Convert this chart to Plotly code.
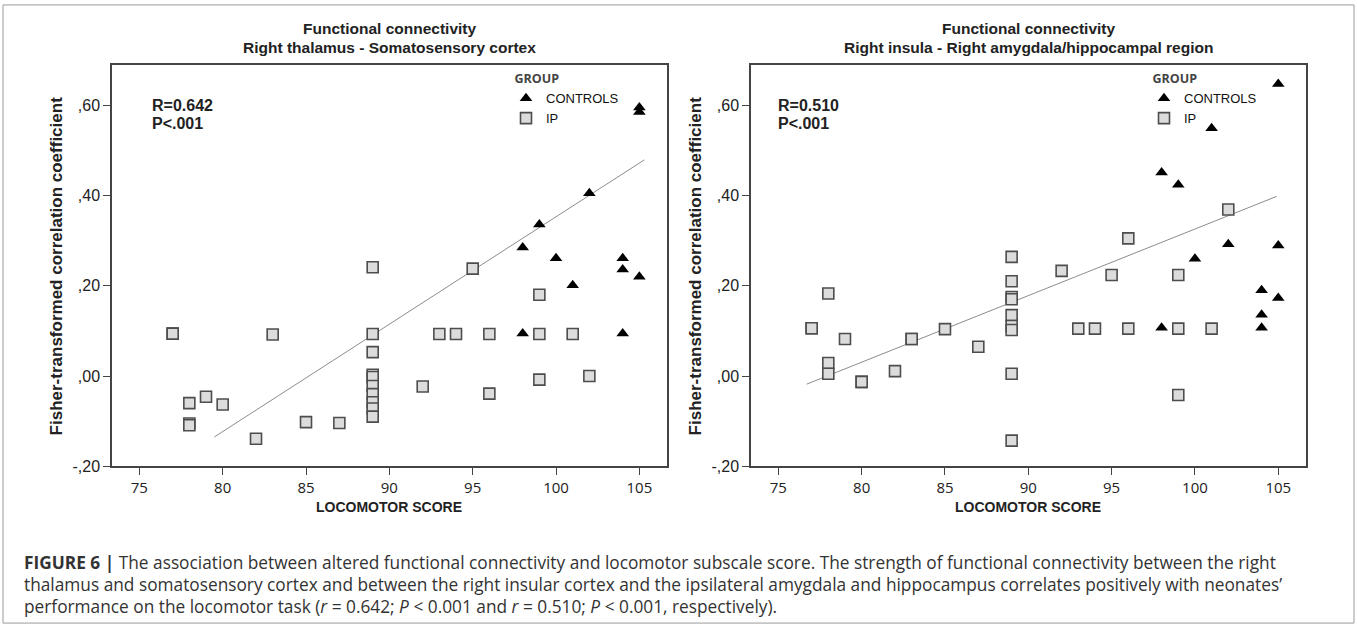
import plotly.graph_objects as go

# ---------------- data ----------------
# Left panel: Right thalamus - Somatosensory cortex
ctrl_x_L = [98, 98, 99, 100, 101, 102, 104, 104, 104, 105, 105, 105]
ctrl_y_L = [0.285, 0.094, 0.336, 0.261, 0.201, 0.405, 0.261, 0.236, 0.094, 0.595, 0.585, 0.220]

ip_x_L = [77, 77, 78, 78, 78, 79, 80, 82, 83, 85, 87,
          89, 89, 89, 89, 89, 89, 89, 89, 89, 89,
          92, 93, 94, 95, 96, 96, 99, 99, 99, 101, 102]
ip_y_L = [0.094, 0.094, -0.060, -0.105, -0.109, -0.046, -0.063, -0.139, 0.092, -0.102, -0.104,
          0.241, 0.093, 0.053, 0.003, -0.002, -0.022, -0.040, -0.058, -0.072, -0.090,
          -0.023, 0.093, 0.093, 0.238, 0.093, -0.039, 0.180, 0.093, -0.008, 0.093, 0.000]

fit_x_L = [79.5, 105.3]
fit_y_L = [-0.135, 0.479]

# Right panel: Right insula - Right amygdala/hippocampal region
ctrl_x_R = [98, 98, 99, 100, 101, 102, 104, 104, 104, 105, 105, 105]
ctrl_y_R = [0.451, 0.107, 0.424, 0.260, 0.549, 0.292, 0.190, 0.136, 0.107, 0.647, 0.289, 0.173]

ip_x_R = [77, 77, 78, 78, 78, 79, 80, 80, 82, 83, 83, 85, 87,
          89, 89, 89, 89, 89, 89, 89, 89, 89,
          92, 93, 94, 95, 96, 96, 99, 99, 99, 101, 102]
ip_y_R = [0.106, 0.106, 0.183, 0.029, 0.005, 0.082, -0.013, -0.013, 0.011, 0.082, 0.082, 0.104, 0.065,
          0.264, 0.210, 0.175, 0.170, 0.135, 0.111, 0.102, 0.005, -0.143,
          0.233, 0.105, 0.105, 0.224, 0.305, 0.105, 0.224, 0.105, -0.042, 0.105, 0.369]

fit_x_R = [76.7, 104.9]
fit_y_R = [-0.018, 0.398]

x_ticks = [75, 80, 85, 90, 95, 100, 105]
y_tick_vals = [-0.2, 0.0, 0.2, 0.4, 0.6]
y_tick_text = ["-,20", ",00", ",20", ",40", ",60"]

titles = [("Functional connectivity", "Right thalamus - Somatosensory cortex"),
          ("Functional connectivity", "Right insula - Right amygdala/hippocampal region")]
stats = [("R=0.642", "P&lt;.001"), ("R=0.510", "P&lt;.001")]
group_names = ["CONTROLS", "IP"]
legend_title = "GROUP"
x_title = "LOCOMOTOR SCORE"
y_title = "Fisher-transformed correlation coefficient"
caption_lines = [
    "<b>FIGURE 6 |</b> The association between altered functional connectivity and locomotor subscale score. The strength of functional connectivity between the right",
    "thalamus and somatosensory cortex and between the right insular cortex and the ipsilateral amygdala and hippocampus correlates positively with neonates\u2019",
    "performance on the locomotor task (<i>r</i> = 0.642; <i>P</i> &lt; 0.001 and <i>r</i> = 0.510; <i>P</i> &lt; 0.001, respectively).",
]

# ---------------- layout helpers ----------------
W, H = 1357, 637
def px(x):
    return x / W
def py(y):
    return 1 - y / H

dom_L = [px(112), px(666.7)]
dom_R = [px(751), px(1305.6)]
dom_y = [py(473), py(66)]
x_range = [73.36, 106.64]
y_range = [-0.2, 0.689]

tri = dict(symbol="triangle-up", size=11, color="#000000")
sq = dict(symbol="square", size=11, color="#dcdcdc", line=dict(color="#4d4d4d", width=1.6))

fig = go.Figure()

panels = [
    (ctrl_x_L, ctrl_y_L, ip_x_L, ip_y_L, fit_x_L, fit_y_L, "x", "y", "legend"),
    (ctrl_x_R, ctrl_y_R, ip_x_R, ip_y_R, fit_x_R, fit_y_R, "x2", "y2", "legend2"),
]
for cx, cy, ix, iy, fx, fy, xa, ya, lg in panels:
    fig.add_trace(go.Scatter(x=fx, y=fy, mode="lines", line=dict(color="#8c8c8c", width=1),
                             xaxis=xa, yaxis=ya, showlegend=False, hoverinfo="skip"))
    fig.add_trace(go.Scatter(x=cx, y=cy, mode="markers", marker=tri, name=group_names[0],
                             xaxis=xa, yaxis=ya, legend=lg))
    fig.add_trace(go.Scatter(x=ix, y=iy, mode="markers", marker=sq, name=group_names[1],
                             xaxis=xa, yaxis=ya, legend=lg))

axis_common = dict(showline=True, mirror=True, linecolor="#444444", linewidth=1.5,
                   showgrid=False, zeroline=False, ticks="outside", ticklen=7,
                   tickcolor="#444444", tickwidth=1.2)
xaxis_common = dict(axis_common, range=x_range, tickvals=x_ticks,
                    tickfont=dict(family="Open Sans", size=15, color="#222222"))
yaxis_common = dict(axis_common, range=y_range, tickvals=y_tick_vals, ticktext=y_tick_text,
                    tickfont=dict(family="Liberation Sans", size=16, color="#222222"))

legend_common = dict(yanchor="top", y=py(68), xanchor="left",
                     bgcolor="rgba(0,0,0,0)", tracegroupgap=0,
                     title=dict(text="&nbsp;&nbsp;<b>%s</b>" % legend_title,
                                font=dict(family="Open Sans", size=12.5, color="#444444")),
                     font=dict(family="Liberation Sans", size=13, color="#111111"))

fig.update_layout(
    width=W, height=H,
    margin=dict(l=0, r=0, t=0, b=0),
    paper_bgcolor="white", plot_bgcolor="white",
    xaxis=dict(xaxis_common, domain=dom_L, anchor="y"),
    yaxis=dict(yaxis_common, domain=dom_y, anchor="x"),
    xaxis2=dict(xaxis_common, domain=dom_R, anchor="y2"),
    yaxis2=dict(yaxis_common, domain=dom_y, anchor="x2"),
    legend=dict(legend_common, x=px(506)),
    legend2=dict(legend_common, x=px(1144)),
    showlegend=True,
)

annotations = []
centers = [(112 + 666.7) / 2, (751 + 1305.6) / 2]
ytitle_x = [56.7, 695.7]
stat_x = [150, 776]
for i in range(2):
    c = centers[i]
    annotations.append(dict(text="<b>%s</b>" % titles[i][0], x=px(c), y=py(29), xref="paper", yref="paper",
                            showarrow=False, xanchor="center", yanchor="middle",
                            font=dict(family="Liberation Sans", size=15.5, color="#222222")))
    annotations.append(dict(text="<b>%s</b>" % titles[i][1], x=px(c), y=py(48), xref="paper", yref="paper",
                            showarrow=False, xanchor="center", yanchor="middle",
                            font=dict(family="Liberation Sans", size=15.5, color="#222222")))
    annotations.append(dict(text="<b>%s</b>" % x_title, x=px(c), y=py(514), xref="paper", yref="paper",
                            showarrow=False, xanchor="center", yanchor="middle",
                            font=dict(family="Liberation Sans", size=14, color="#222222")))
    annotations.append(dict(text="<b>%s</b>" % y_title, x=px(ytitle_x[i]), y=py(269.5), xref="paper", yref="paper",
                            showarrow=False, xanchor="center", yanchor="middle", textangle=-90,
                            font=dict(family="Liberation Sans", size=17, color="#222222")))
    annotations.append(dict(text="<b>%s</b>" % stats[i][0], x=px(stat_x[i]), y=py(106.7), xref="paper", yref="paper",
                            showarrow=False, xanchor="left", yanchor="middle",
                            font=dict(family="Liberation Sans", size=16, color="#222222")))
    annotations.append(dict(text="<b>%s</b>" % stats[i][1], x=px(stat_x[i]), y=py(125), xref="paper", yref="paper",
                            showarrow=False, xanchor="left", yanchor="middle",
                            font=dict(family="Liberation Sans", size=16, color="#222222")))

cap_y = [570.7, 592.7, 615]
for line, yy in zip(caption_lines, cap_y):
    annotations.append(dict(text=line, x=px(22), y=py(yy), xref="paper", yref="paper",
                            showarrow=False, xanchor="left", yanchor="middle", align="left",
                            font=dict(family="Open Sans", size=17.3, color="#333333")))

fig.update_layout(annotations=annotations)

fig.add_shape(type="rect", xref="paper", yref="paper",
              x0=px(3), x1=px(1354), y0=py(632), y1=py(5),
              line=dict(color="#9a9a9a", width=1), fillcolor="rgba(0,0,0,0)", layer="below")

fig.write_html("out.html",
               config={"displayModeBar": False},
               post_script="document.body.style.margin='0';document.body.style.overflow='hidden';")
